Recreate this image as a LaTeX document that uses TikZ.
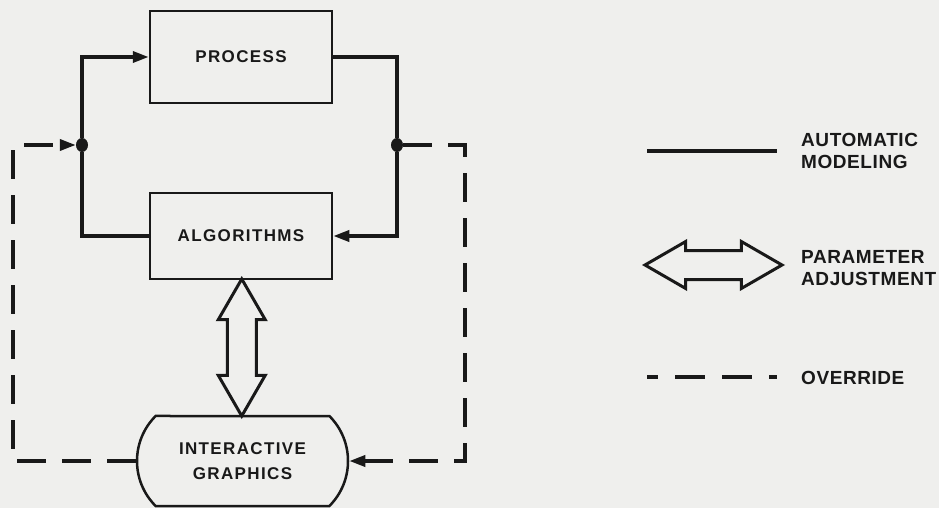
\documentclass[tikz,border=0pt]{standalone}
\usepackage{fontspec}
\setmainfont{Liberation Sans}
\newfontfamily\boxfont[LetterSpace=8]{Liberation Sans Bold}
\newfontfamily\keyfont[LetterSpace=3]{Liberation Sans Bold}
\usetikzlibrary{arrows.meta,shapes.arrows,shapes.misc,shapes.geometric}
\definecolor{paper}{RGB}{239,239,237}
\definecolor{ink}{RGB}{25,25,25}

\begin{document}
\begin{tikzpicture}[x=1pt, y=-1pt,
	box/.style={draw=ink, line width=2.5pt, minimum width=182pt, inner sep=0pt, align=center, text=ink, font={\boxfont\fontsize{17}{24.3}\selectfont}},
	igbox/.style={box, rounded rectangle, rounded rectangle arc length=90, minimum width=211pt, minimum height=90pt},
	joint/.style={ellipse, fill=ink, inner sep=0pt, minimum width=12pt, minimum height=14pt},
	flow/.style={draw=ink, line width=3.5pt},
	override/.style={flow, dash pattern=on 29pt off 16pt},
	tip/.style={-{Triangle[length=16pt,width=11pt]}},
	adjarrow/.style={double arrow, draw=ink, line width=3pt, inner xsep=0pt, inner ysep=13pt, minimum height=137pt, double arrow head extend=9pt, double arrow tip angle=60},
	keytext/.style={anchor=west, align=left, inner sep=0pt, text=ink, font={\keyfont\fontsize{19}{22.4}\selectfont}}]
		%%%%% START %%%%%
		
		\useasboundingbox (0,0) rectangle (939,508);
		\fill[paper] (0,0) rectangle (939,508);
		
		\node[box, minimum height=92pt] (proc) at (241,57) {PROCESS};
		\node[box, minimum height=86pt] (alg) at (241,236) {ALGORITHMS};
		\node[igbox] (ig) at (242.5,461) {INTERACTIVE\\GRAPHICS};
		
		\node[joint] (jl) at (82,145) {};
		\node[joint] (jr) at (397,145) {};
		
		\draw[flow, tip] (alg.west) -| (jl) |- (proc.west);
		\draw[flow, tip] (proc.east) -| (jr) |- (alg.east);
		
		\path (alg.south) -- (ig.north) node[midway, adjarrow, rotate=90] (vadj) {};
		
		\coordinate (ol) at (13,145);
		\coordinate (or) at (465,145);
		\draw[override, tip] (ig.west) -| (ol) -- (jl);
		\draw[override, tip] (jr) -- (or) |- (ig.east);
		
		% key
		\coordinate (ka) at (647,151);
		\coordinate (kb) at (777,151);
		\draw[flow] (ka) -- (kb);
		\node[keytext] (kauto) at (801,151) {AUTOMATIC\\MODELING};
		
		\node[adjarrow] (kadj) at (713.5,265) {};
		\node[keytext] (kpar) at (801,268) {PARAMETER\\ADJUSTMENT};
		
		\coordinate (kc) at (647,377);
		\coordinate (kd) at (777,377);
		\draw[override, dash pattern=on 30pt off 17pt, dash phase=19pt] (kc) -- (kd);
		\node[keytext] (kover) at (801,378) {OVERRIDE};
		
		%%%%% END %%%%%
	\end{tikzpicture}
\end{document}
